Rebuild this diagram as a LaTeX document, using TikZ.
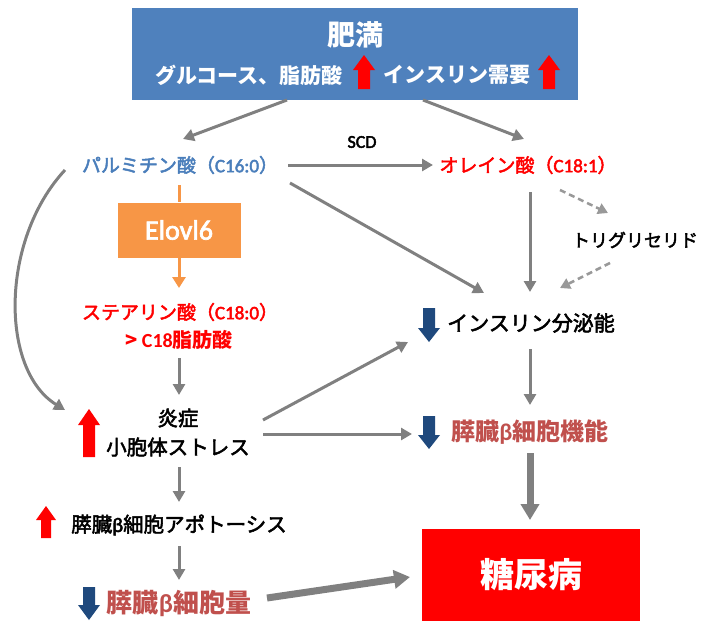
\documentclass[tikz,border=0pt]{standalone}
\usepackage{fontspec}
\setmainfont{Carlito}
\newfontfamily\cjk{Noto Sans CJK JP}
\newfontfamily\cjkm[FakeBold=2.5]{Noto Sans CJK JP}
\newfontfamily\latm[FakeBold=2.5]{Carlito}
\newcommand\lt[1]{{\latm #1}}
\usetikzlibrary{arrows.meta}
\definecolor{boxblue}{HTML}{4F81BD}
\definecolor{palmblue}{HTML}{4A7EBB}
\definecolor{orng}{HTML}{F79646}
\definecolor{dusty}{HTML}{C0504D}
\definecolor{navy}{HTML}{1F497D}
\definecolor{arrgray}{HTML}{808080}
\definecolor{dashgray}{HTML}{999999}
\newcommand\UpBlk[7]{\fill[#7] ({#1-#4},#3) -- ({#1-#4},{#2+#6}) -- ({#1-#5},{#2+#6}) -- (#1,#2) -- ({#1+#5},{#2+#6}) -- ({#1+#4},{#2+#6}) -- ({#1+#4},#3) -- cycle;}
\newcommand\DnBlk[7]{\fill[#7] ({#1-#4},#2) -- ({#1-#4},{#3-#6}) -- ({#1-#5},{#3-#6}) -- (#1,#3) -- ({#1+#5},{#3-#6}) -- ({#1+#4},{#3-#6}) -- ({#1+#4},#2) -- cycle;}
\tikzset{
  fs/.style={font=\cjkm\fontsize{#1}{#1}\selectfont},
  fsb/.style={font=\cjk\bfseries\fontsize{#1}{#1}\selectfont},
  lbl/.style={inner sep=0pt, anchor=center},
  garr/.style={draw=arrgray, line width=3pt, -{Triangle[length=11pt,width=12pt]}},
  tarr/.style={draw=arrgray, line width=7pt, -{Triangle[length=16pt,width=18pt]}},
  darr/.style={draw=dashgray, line width=2.5pt, dash pattern=on 6pt off 4pt, -{Triangle[length=10pt,width=11pt]}},
  oarr/.style={draw=orng, line width=3pt, -{Triangle[length=11pt,width=13pt]}},
}
\begin{document}
\begin{tikzpicture}[x=1pt,y=-1pt]
\useasboundingbox (0,0) rectangle (701,621);
% top box
\node[fill=boxblue, minimum width=446pt, minimum height=92pt, inner sep=0pt] (obes) at (355,54) {};
\node[lbl, fsb=28, text=white] (tobes) at (355,35) {肥満};
\node[lbl, fsb=21, text=white] (tgluc) at (249,75) {グルコース、脂肪酸};
\node[lbl, fsb=21, text=white] (tins) at (457,75) {インスリン需要};
\UpBlk{364}{55}{89}{6}{11}{15}{red}
\UpBlk{549}{55}{89}{6}{11}{15}{red}
% acids
\node[lbl, fs=19, text=palmblue] (palm) at (180,165) {パルミチン酸（\lt{C16:0}）};
\node[lbl, font=\latm\fontsize{18}{18}\selectfont] (scd) at (362,142) {SCD};
\node[lbl, fs=19, text=red] (olein) at (528,165) {オレイン酸（\lt{C18:1}）};
\node[fill=orng, minimum width=123pt, minimum height=55pt, inner sep=0pt, text=white, font=\latm\fontsize{28}{28}\selectfont] (elovl) at (179,230) {Elovl6};
\node[lbl, fs=19, text=red] (stear) at (180,312) {ステアリン酸（\lt{C18:0}）};
\node[lbl, fsb=20, text=red] (c18) at (179,340) {> {\rmfamily\bfseries C18}脂肪酸};
\node[lbl, fs=20.5] (inflam) at (178,418) {炎症};
\node[lbl, fs=20.5] (er) at (178,447) {小胞体ストレス};
\UpBlk{89}{409}{457}{6}{11}{16}{red}
\node[lbl, fs=20.5] (apop) at (179,525) {膵臓\lt{β}細胞アポトーシス};
\UpBlk{46}{506}{538}{5}{10}{14}{red}
\node[lbl, fsb=26, text=dusty] (mass) at (179,603) {膵臓{\rmfamily\bfseries β}細胞量};
\DnBlk{89}{587}{620}{6}{11}{15}{navy}
\node[lbl, fs=18] (tg) at (635,240) {トリグリセリド};
\node[lbl, fs=21] (inssec) at (531,323) {インスリン分泌能};
\DnBlk{429}{308}{342}{6}{11}{14}{navy}
\node[lbl, fsb=24, text=dusty] (betaf) at (530,432) {膵臓{\rmfamily\bfseries β}細胞機能};
\DnBlk{429}{416}{449}{6}{11}{14}{navy}
\node[fill=red, minimum width=218pt, minimum height=92pt, inner sep=0pt, text=white, fsb=34] (dm) at (531,575) {糖尿病};
% connectors
\draw[garr] ([shift={(-68,46)}]obes.center) -- ([shift={(3,-26)}]palm.center);
\draw[garr] ([shift={(68,46)}]obes.center) -- ([shift={(-4,-26)}]olein.center);
\draw[garr] ([shift={(108,0)}]palm.center) -- ([shift={(-95,0)}]olein.center);
\draw[garr] ([shift={(110,18)}]palm.center) -- ([shift={(-47,-30)}]inssec.center);
\draw[garr] ([shift={(2,27)}]olein.center) -- ([shift={(-1,-31)}]inssec.center);
\draw[darr] ([shift={(32,25)}]olein.center) -- ([shift={(-27,-27)}]tg.center);
\draw[darr] ([shift={(-25,23)}]tg.center) -- ([shift={(29,-35)}]inssec.center);
\draw[garr] ([shift={(-1,26)}]inssec.center) -- ([shift={(0,-27)}]betaf.center);
\draw[tarr] ([shift={(0,21)}]betaf.center) -- ([shift={(-1,-55)}]dm.center);
\draw[draw=orng, line width=3pt] ([shift={(-1,20)}]palm.center) -- (elovl.north);
\draw[oarr] (elovl.south) -- ([shift={(-1,-24)}]stear.center);
\draw[garr] ([shift={(0,18)}]c18.center) -- ([shift={(1,-23)}]inflam.center);
\draw[garr] ([shift={(-115,5)}]palm.center) .. controls (0,240) and (0,370) .. ([shift={(-113,-8)}]inflam.center);
\draw[garr] ([shift={(85,2)}]inflam.center) -- ([shift={(-123,19)}]inssec.center);
\draw[garr] ([shift={(85,-13)}]er.center) -- ([shift={(-118,2)}]betaf.center);
\draw[garr] ([shift={(1,20)}]er.center) -- ([shift={(0,-23)}]apop.center);
\draw[garr] ([shift={(0,21)}]apop.center) -- ([shift={(0,-23)}]mass.center);
\draw[tarr] ([shift={(88,-5)}]mass.center) -- ([shift={(-121,2)}]dm.center);
\end{tikzpicture}
\end{document}
